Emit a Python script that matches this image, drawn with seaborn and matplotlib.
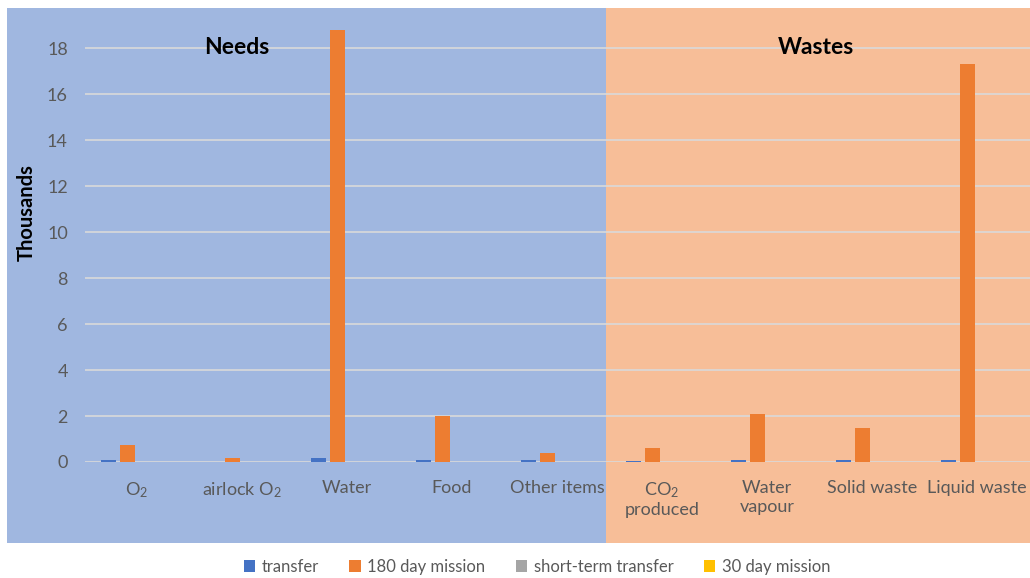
import matplotlib
matplotlib.use("Agg")
import matplotlib.pyplot as plt
from matplotlib.patches import Rectangle
import numpy as np
import pandas as pd
import seaborn as sns

# Consumables and wastes (thousands)
categories = ["O$_2$", "airlock O$_2$", "Water", "Food", "Other items",
              "CO$_2$\nproduced", "Water\nvapour", "Solid waste", "Liquid waste"]
series_names = ["transfer", "180 day mission", "short-term transfer", "30 day mission"]
transfer = [0.09, 0.0, 0.18, 0.09, 0.09, 0.06, 0.10, 0.10, 0.10]
mission_180 = [0.74, 0.18, 18.8, 2.0, 0.40, 0.60, 2.10, 1.50, 17.3]
short_term = [0.0, 0.0, 0.0, 0.0, 0.0, 0.0, 0.0, 0.0, 0.0]
mission_30 = [0.0, 0.0, 0.0, 0.0, 0.0, 0.0, 0.0, 0.0, 0.0]
series_colors = ["#4472C4", "#ED7D31", "#A5A5A5", "#FFC000"]

values = [transfer, mission_180, short_term, mission_30]
df = pd.DataFrame({
    "category": np.tile(categories, len(series_names)),
    "series": np.repeat(series_names, len(categories)),
    "value": np.concatenate(values),
})

sns.set_theme(style="white")
plt.rcParams["font.family"] = ["Lato", "DejaVu Sans"]
plt.rcParams["mathtext.default"] = "regular"

W, H = 1030, 578
fig = plt.figure(figsize=(W / 100, H / 100), dpi=100)

# Section backgrounds, drawn beneath the axes
fig.patches.append(Rectangle((7 / W, 1 - 543 / H), (606 - 7) / W, (543 - 8) / H,
                             transform=fig.transFigure, facecolor="#A0B7E0",
                             edgecolor="none", zorder=-1))
fig.patches.append(Rectangle((606 / W, 1 - 543 / H), (W - 606) / W, (543 - 8) / H,
                             transform=fig.transFigure, facecolor="#F7BE98",
                             edgecolor="none", zorder=-1))

ax = fig.add_axes([84.5 / W, 1 - 462 / H, (1029.5 - 84.5) / W, (462 - 8) / H])
ax.patch.set_alpha(0)

sns.barplot(data=df, x="category", y="value", hue="series", order=categories,
            hue_order=series_names, palette=series_colors, saturation=1,
            width=0.72, gap=0.2, errorbar=None, ax=ax, zorder=3,
            edgecolor="none", linewidth=0)

ax.set_ylim(0, 19.74)
ax.set_yticks(np.arange(0, 19, 2))
ax.yaxis.grid(True, color="#D9D9D9", linewidth=1.2, zorder=1)
ax.set_axisbelow(True)
for s in ax.spines.values():
    s.set_visible(False)

ax.tick_params(axis="both", length=0, labelsize=13, labelcolor="#595959")
ax.tick_params(axis="y", pad=12)
ax.tick_params(axis="x", pad=13)
for lbl in ax.get_xticklabels():
    lbl.set_linespacing(1.2)
ax.set_xlabel("")
ax.set_ylabel("")

fig.text(27 / W, 1 - 213 / H, "Thousands", rotation=90, ha="center", va="center",
         fontsize=14.5, fontweight="bold", color="black")
fig.text(237 / W, 1 - 47 / H, "Needs", ha="center", va="center",
         fontsize=16.5, fontweight="bold", color="black")
fig.text(816 / W, 1 - 47 / H, "Wastes", ha="center", va="center",
         fontsize=16.5, fontweight="bold", color="black")

handles, labels = ax.get_legend_handles_labels()
ax.get_legend().remove()
leg = fig.legend(handles, labels, loc="center", bbox_to_anchor=(537 / W, 1 - 567 / H),
                 ncol=4, frameon=False, fontsize=12, handlelength=0.7,
                 handleheight=0.7, handletextpad=0.4, columnspacing=1.8)
for t in leg.get_texts():
    t.set_color("#595959")

fig.savefig("out.png", dpi=100, facecolor="white")
